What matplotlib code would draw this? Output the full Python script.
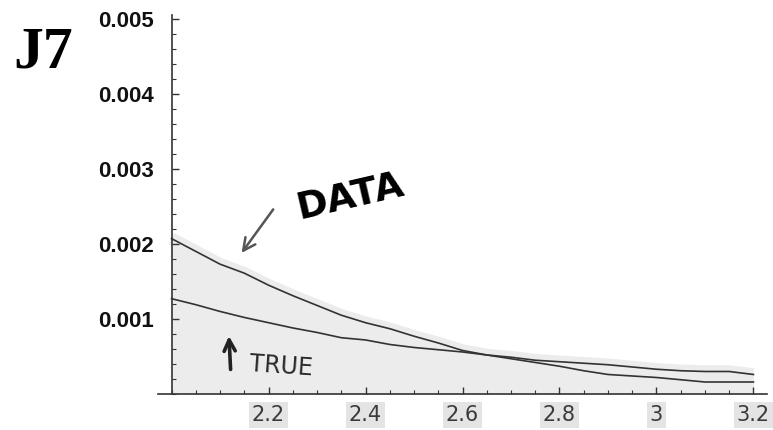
import matplotlib
matplotlib.use("Agg")
import matplotlib.pyplot as plt
from matplotlib.ticker import MultipleLocator, FixedLocator
import numpy as np

# Sample points (x) and the two curves
x_vals = [2.00, 2.05, 2.10, 2.15, 2.20, 2.25, 2.30, 2.35, 2.40, 2.45, 2.50, 2.55,
          2.60, 2.65, 2.70, 2.75, 2.80, 2.85, 2.90, 2.95, 3.00, 3.05, 3.10, 3.15, 3.20]
data_vals = [0.00207, 0.00190, 0.00173, 0.00161, 0.00145, 0.00131, 0.00118, 0.00105,
             0.00095, 0.00087, 0.00077, 0.00068, 0.00058, 0.00052, 0.00047, 0.00042,
             0.00037, 0.00031, 0.00026, 0.00024, 0.00022, 0.00019, 0.00016, 0.00016,
             0.00016]
true_vals = [0.00127, 0.00119, 0.00110, 0.00102, 0.00095, 0.00088, 0.00082, 0.00075,
             0.00072, 0.00066, 0.00062, 0.00059, 0.00056, 0.00052, 0.00049, 0.00045,
             0.00043, 0.00041, 0.00039, 0.00036, 0.00033, 0.00031, 0.00030, 0.00030,
             0.00026]

x_ticks = [2.2, 2.4, 2.6, 2.8, 3.0, 3.2]
x_tick_labels = ["2.2", "2.4", "2.6", "2.8", "3", "3.2"]
y_ticks = [0.001, 0.002, 0.003, 0.004, 0.005]
y_tick_labels = ["0.001", "0.002", "0.003", "0.004", "0.005"]

W, H = 773, 430
fig = plt.figure(figsize=(W / 100, H / 100), dpi=100)
fig.patch.set_facecolor("white")

# axes box in pixel terms
left_px, right_px, top_px, bottom_px = 158, 767, 15, 394
ax = fig.add_axes([left_px / W, 1 - bottom_px / H,
                   (right_px - left_px) / W, (bottom_px - top_px) / H])
ax.set_xlim(1.972, 3.228)
ax.set_ylim(0, 0.00505)
ax.patch.set_alpha(0)

x = np.array(x_vals)
d = np.array(data_vals)
t = np.array(true_vals)
env = np.maximum(d, t)

# shaded region beneath the curves
ax.plot(x, env, color="#ececec", lw=9, solid_capstyle="butt", zorder=1)
ax.fill_between(x, 0, env, color="#ececec", lw=0, zorder=1)

ax.plot(x, d, color="#333333", lw=1.2, zorder=3)
ax.plot(x, t, color="#333333", lw=1.2, zorder=3)

# axes styling
for s in ["top", "right"]:
    ax.spines[s].set_visible(False)
ax.spines["left"].set_position(("data", 2.0))
ax.spines["left"].set_bounds(0, 0.00505)
ax.spines["bottom"].set_position(("data", 0))
for s in ["left", "bottom"]:
    ax.spines[s].set_color("#333333")
    ax.spines[s].set_linewidth(1.2)

ax.xaxis.set_major_locator(FixedLocator(x_ticks))
ax.set_xticklabels(x_tick_labels)
ax.xaxis.set_minor_locator(MultipleLocator(0.05))
ax.yaxis.set_major_locator(FixedLocator(y_ticks))
ax.set_yticklabels(y_tick_labels)
ax.yaxis.set_minor_locator(MultipleLocator(0.0002))

ax.tick_params(axis="both", which="major", direction="in", length=5, width=1,
               color="#333333")
ax.tick_params(axis="both", which="minor", direction="in", length=3, width=0.8,
               color="#333333")
ax.tick_params(axis="x", which="major", pad=8)
ax.tick_params(axis="y", which="major", pad=13)

for lab in ax.get_xticklabels():
    lab.set_fontfamily("DejaVu Sans")
    lab.set_fontsize(15)
    lab.set_color("#3a3a3a")
    lab.set_bbox(dict(facecolor="#e4e4e4", edgecolor="none", pad=2))
for lab in ax.get_yticklabels():
    lab.set_fontfamily("Liberation Sans")
    lab.set_fontweight("bold")
    lab.set_fontsize(16)
    lab.set_color("#111111")

# panel label
fig.text(13 / W, 1 - 27 / H, "J7", family="Liberation Serif", weight="bold",
         fontsize=43, ha="left", va="top", color="black")

# hand-written notes
ax.text(2.368, 0.00263, "DATA", fontsize=27, fontweight="bold",
        family="DejaVu Sans", rotation=13, ha="center", va="center",
        color="black")
ax.annotate("", xy=(2.141, 0.00185), xytext=(2.213, 0.00249),
            arrowprops=dict(arrowstyle="->", color="#555555", lw=1.8,
                            mutation_scale=22))
ax.text(2.226, 0.00037, "TRUE", fontsize=17, family="DejaVu Sans",
        rotation=-4, ha="center", va="center", color="#2a2a2a")
ax.annotate("", xy=(2.118, 0.00081), xytext=(2.122, 0.00029),
            arrowprops=dict(arrowstyle="->", color="#222222", lw=2.6,
                            mutation_scale=20))

fig.savefig("out.png", dpi=100, facecolor="white")
